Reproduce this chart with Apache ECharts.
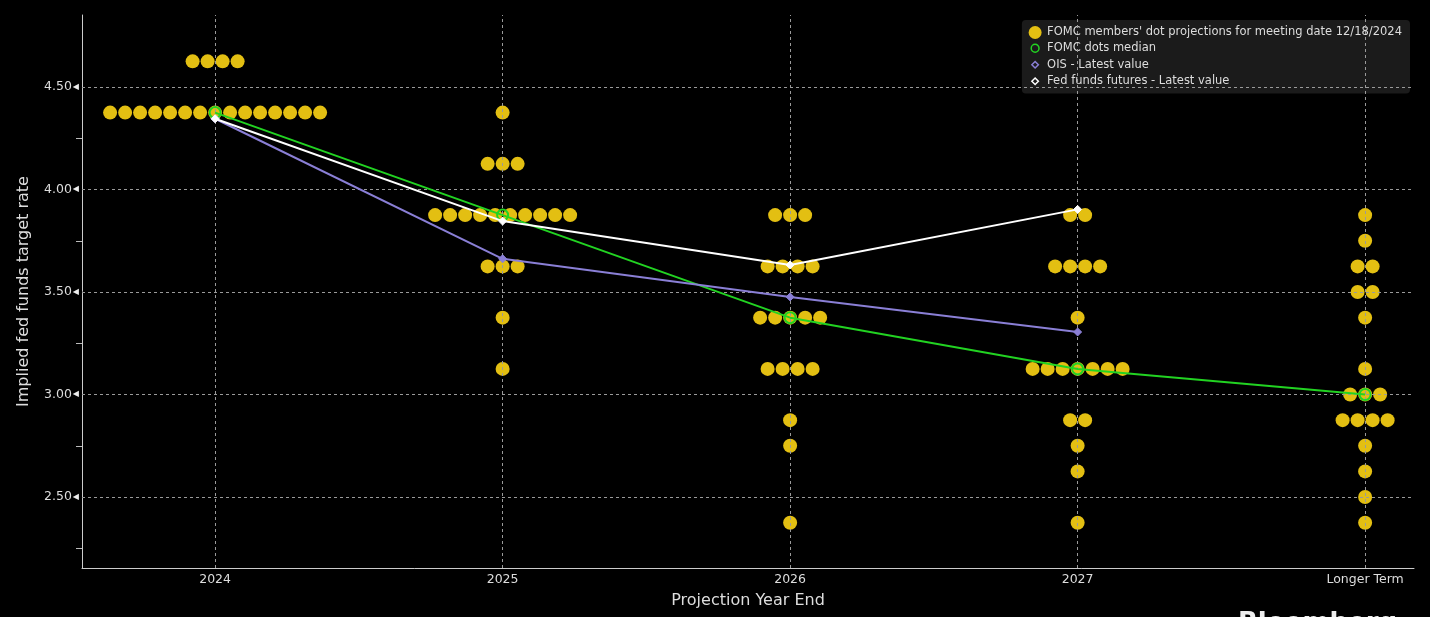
<!DOCTYPE html>
<html>
<head>
<meta charset="utf-8">
<script src="https://cdn.jsdelivr.net/npm/echarts@6/dist/echarts.min.js"></script>
<style>
html,body{margin:0;padding:0;background:#000;}
#chart{width:1430px;height:617px;}
</style>
</head>
<body>
<div id="chart"></div>
<script>
// ---- data ----
const categories = ['2024', '2025', '2026', '2027', 'Longer Term'];
const yTickValues = [2.5, 3.0, 3.5, 4.0, 4.5];
const yMinorTicks = [2.25, 2.75, 3.25, 3.75, 4.25];
// FOMC dots: [rate, number of participants]
const dots2024 = [[4.625, 4], [4.375, 15]];
const dots2025 = [[4.375, 1], [4.125, 3], [3.875, 10], [3.625, 3], [3.375, 1], [3.125, 1]];
const dots2026 = [[3.875, 3], [3.625, 4], [3.375, 5], [3.125, 4], [2.875, 1], [2.75, 1], [2.375, 1]];
const dots2027 = [[3.875, 2], [3.625, 4], [3.375, 1], [3.125, 7], [2.875, 2], [2.75, 1], [2.625, 1], [2.375, 1]];
const dotsLonger = [[3.875, 1], [3.75, 1], [3.625, 2], [3.5, 2], [3.375, 1], [3.125, 1], [3.0, 3], [2.875, 4], [2.75, 1], [2.625, 1], [2.5, 1], [2.375, 1]];
const medianValues = [4.375, 3.875, 3.375, 3.125, 3.0];
const oisValues = [4.345, 3.662, 3.476, 3.305];
const futuresValues = [4.345, 3.846, 3.632, 3.903];

const dotsByYear = [dots2024, dots2025, dots2026, dots2027, dotsLonger];
const names = {
  dots: "FOMC members' dot projections for meeting date 12/18/2024",
  median: 'FOMC dots median',
  ois: 'OIS - Latest value',
  fut: 'Fed funds futures - Latest value'
};

// build scatter items: [categoryIndex, rate, slotOffset]
const dotData = [];
dotsByYear.forEach((rows, i) => {
  rows.forEach(([rate, n]) => {
    for (let k = 0; k < n; k++) dotData.push([i, rate, k - (n - 1) / 2]);
  });
});
const toXY = arr => arr.map((v, i) => [i, v]);

const chart = echarts.init(document.getElementById('chart'), null, {renderer: 'canvas'});
const FONT = 'DejaVu Sans';
const gridLineStyle = {color: '#9a9a9a', type: [3, 3], width: 1};
const circleIcon = 'path://M0,0M20,20M10,4A6,6,0,1,1,9.99,4Z';
const diamondIcon = 'path://M0,0M20,20M10,5L15,10L10,15L5,10Z';

chart.setOption({
  backgroundColor: '#000',
  animation: false,
  textStyle: {fontFamily: FONT},
  grid: {left: 82, right: 16, top: 15, bottom: 49},
  legend: {
    orient: 'vertical',
    right: 20, top: 20,
    backgroundColor: '#1b1b1b',
    borderRadius: 4,
    padding: [6, 8, 5, 6],
    itemGap: 2,
    itemWidth: 14, itemHeight: 13,
    textStyle: {color: '#dddddd', fontSize: 11.5, fontFamily: FONT},
    data: [
      {name: names.dots, icon: 'circle', itemStyle: {color: '#e3bf12'}},
      {name: names.median, icon: circleIcon, itemStyle: {color: 'transparent', borderColor: '#22d322', borderWidth: 1.5}},
      {name: names.ois, icon: diamondIcon, itemStyle: {color: 'transparent', borderColor: '#8a7fd6', borderWidth: 1.5}},
      {name: names.fut, icon: diamondIcon, itemStyle: {color: 'transparent', borderColor: '#ffffff', borderWidth: 1.5}}
    ]
  },
  xAxis: {
    type: 'value',
    min: -0.463, max: 4.17,
    name: 'Projection Year End',
    nameLocation: 'middle',
    nameGap: 25,
    nameTextStyle: {color: '#dddddd', fontSize: 16, fontFamily: FONT},
    axisLine: {show: true, onZero: false, lineStyle: {color: '#cccccc', width: 1}},
    axisTick: {show: false},
    splitLine: {show: false},
    axisLabel: {
      customValues: [0, 1, 2, 3, 4],
      color: '#dddddd', fontSize: 12.5, margin: 5,
      formatter: v => categories[Math.round(v)]
    }
  },
  yAxis: [{
    type: 'value',
    min: 2.154, max: 4.851,
    name: 'Implied fed funds target rate',
    nameLocation: 'middle',
    nameGap: 50,
    nameTextStyle: {color: '#dddddd', fontSize: 16, fontFamily: FONT},
    axisLine: {show: true, onZero: false, lineStyle: {color: '#cccccc', width: 1}},
    axisTick: {show: false},
    splitLine: {show: false},
    axisLabel: {
      customValues: yTickValues,
      color: '#dddddd', fontSize: 12.5, margin: 3,
      formatter: v => v.toFixed(2) + '{t|◀}',
      rich: {t: {fontSize: 8, color: '#eeeeee', padding: [0, 0, 1, 1]}}
    }
  }, {
    type: 'value',
    position: 'left',
    min: 2.154, max: 4.851,
    axisLine: {show: false, onZero: false},
    axisLabel: {show: false},
    splitLine: {show: false},
    axisTick: {show: true, customValues: yMinorTicks, length: 6, lineStyle: {color: '#bbbbbb', width: 1}}
  }],
  graphic: [{
    type: 'text', left: 1238, top: 611,
    style: {text: 'Bloomberg', fill: '#eeeeee', font: 'bold 26px ' + FONT}
  }],
  series: [
    {
      type: 'line', name: 'grid', data: [], silent: true, z: 1,
      markLine: {
        silent: true, symbol: 'none', label: {show: false},
        lineStyle: gridLineStyle, animation: false,
        data: yTickValues.map(v => ({yAxis: v})).concat([0, 1, 2, 3, 4].map(v => ({xAxis: v})))
      }
    },
    {
      type: 'custom', name: names.dots, z: 3,
      data: dotData,
      encode: {x: 0, y: 1},
      renderItem: (params, api) => {
        const p = api.coord([api.value(0), api.value(1)]);
        return {
          type: 'circle',
          shape: {cx: p[0] + api.value(2) * 15, cy: p[1], r: 7},
          style: {fill: '#e3bf12'}
        };
      }
    },
    {
      type: 'line', name: names.median, z: 5,
      data: toXY(medianValues),
      symbol: 'circle', symbolSize: 11,
      lineStyle: {color: '#22d322', width: 2},
      itemStyle: {color: 'rgba(0,0,0,0)', borderColor: '#22d322', borderWidth: 2}
    },
    {
      type: 'line', name: names.ois, z: 6,
      data: toXY(oisValues),
      symbol: 'diamond', symbolSize: 8,
      lineStyle: {color: '#8a7fd6', width: 2},
      itemStyle: {color: '#8a7fd6', borderColor: '#8a7fd6', borderWidth: 1}
    },
    {
      type: 'line', name: names.fut, z: 7,
      data: toXY(futuresValues),
      symbol: 'diamond', symbolSize: 8,
      lineStyle: {color: '#ffffff', width: 2},
      itemStyle: {color: '#ffffff', borderColor: '#ffffff', borderWidth: 1}
    }
  ]
});
</script>
</body>
</html>
